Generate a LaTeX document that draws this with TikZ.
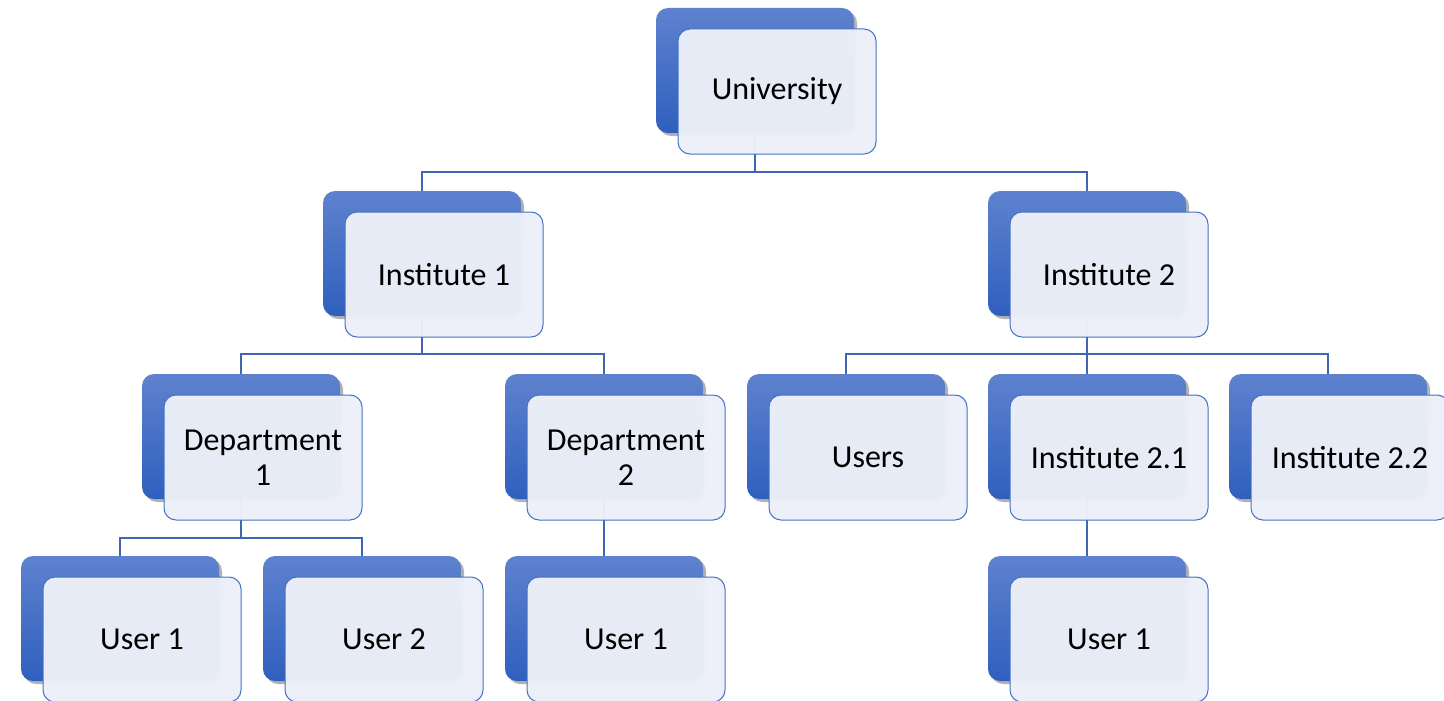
\documentclass[tikz,border=0pt]{standalone}
\usepackage{fontspec}
\setmainfont{Carlito}
\usetikzlibrary{shadows}
\definecolor{backtop}{HTML}{5E82CE}
\definecolor{backbot}{HTML}{2F5FBE}
\definecolor{frontfill}{HTML}{ECF0F8}
\definecolor{frontdraw}{HTML}{4472C4}
\definecolor{linkcol}{HTML}{3F67B3}
\tikzset{
  backbox/.style={rectangle, rounded corners=12pt, minimum width=198pt, minimum height=125pt,
    top color=backtop, bottom color=backbot, draw=none,
    drop shadow={shadow xshift=3pt, shadow yshift=-3pt, fill=black, opacity=0.3}},
  frontbox/.style={rectangle, rounded corners=12pt, minimum width=198pt, minimum height=125pt,
    fill=frontfill, fill opacity=0.97, text opacity=1, draw=frontdraw, line width=1pt,
    font=\fontsize{32}{35}\selectfont, align=center, text=black},
  link/.style={draw=linkcol, line width=2.4pt}
}
\newcommand{\backat}[3]{\node[backbox] (#1) at (#2+99,#3+62.5) {};}
\newcommand{\frontat}[4]{\node[frontbox] (#1) at (#2+121,#3+83.5) {#4};}
\begin{document}
\begin{tikzpicture}[x=1pt,y=-1pt]
\useasboundingbox (0,0) rectangle (1444,701);
% back boxes
\backat{bU}{656}{8}
\backat{bI1}{323}{191}
\backat{bI2}{988}{191}
\backat{bD1}{142}{374}
\backat{bD2}{505}{374}
\backat{bUs}{747}{374}
\backat{bI21}{988}{374}
\backat{bI22}{1229}{374}
\backat{bU1}{21}{556}
\backat{bU2}{263}{556}
\backat{bU3}{505}{556}
\backat{bU4}{988}{556}
% connectors
\draw[link] (bU.south) -- ++(0,39) -| (bI1.north);
\draw[link] (bU.south) -- ++(0,39) -| (bI2.north);
\draw[link] (bI1.south) -- ++(0,38) -| (bD1.north);
\draw[link] (bI1.south) -- ++(0,38) -| (bD2.north);
\draw[link] (bI2.south) -- ++(0,38) -| (bUs.north);
\draw[link] (bI2.south) -- (bI21.north);
\draw[link] (bI2.south) -- ++(0,38) -| (bI22.north);
\draw[link] (bD1.south) -- ++(0,39) -| (bU1.north);
\draw[link] (bD1.south) -- ++(0,39) -| (bU2.north);
\draw[link] (bD2.south) -- (bU3.north);
\draw[link] (bI21.south) -- (bU4.north);
% front boxes
\frontat{fU}{656}{8}{University}
\frontat{fI1}{323}{191}{Institute 1}
\frontat{fI2}{988}{191}{Institute 2}
\frontat{fD1}{142}{374}{Department\\1}
\frontat{fD2}{505}{374}{Department\\2}
\frontat{fUs}{747}{374}{Users}
\frontat{fI21}{988}{374}{Institute 2.1}
\frontat{fI22}{1229}{374}{Institute 2.2}
\frontat{fU1}{21}{556}{User 1}
\frontat{fU2}{263}{556}{User 2}
\frontat{fU3}{505}{556}{User 1}
\frontat{fU4}{988}{556}{User 1}
\end{tikzpicture}
\end{document}
